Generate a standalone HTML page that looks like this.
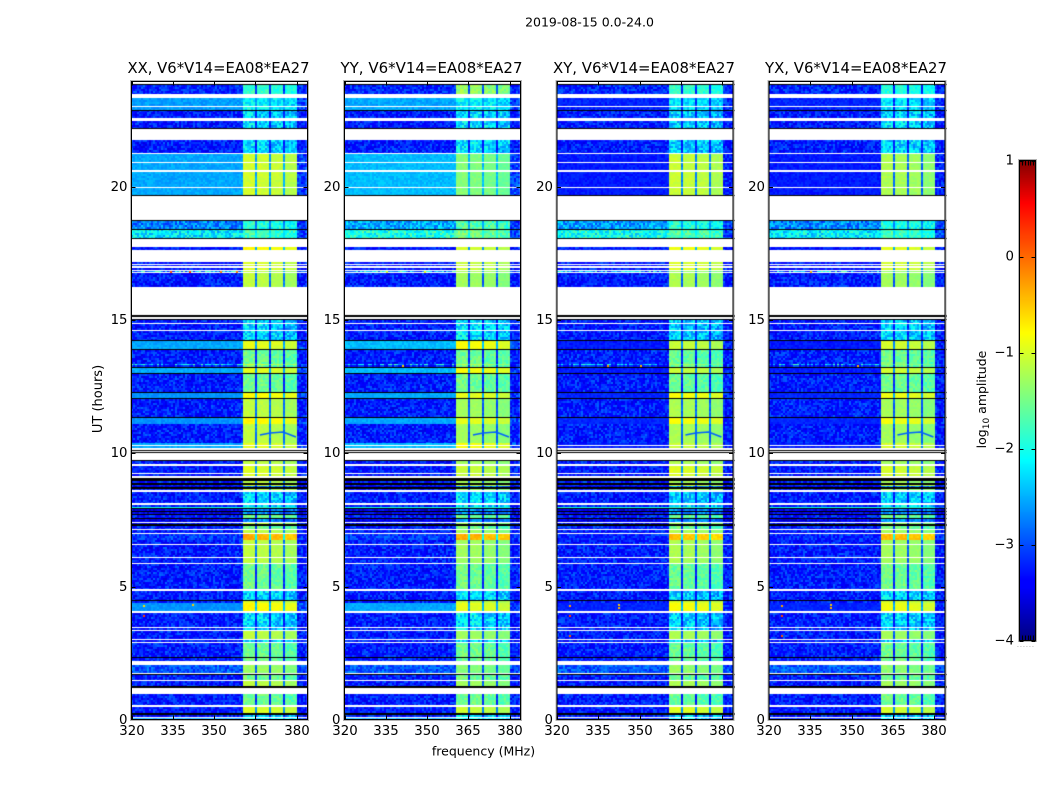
<!DOCTYPE html>
<html lang="en">
<head>
<meta charset="utf-8">
<title>2019-08-15 0.0-24.0</title>
<style>
html,body{margin:0;padding:0;background:#fff;}
#figure{position:relative;width:1050px;height:800px;overflow:hidden;background:#fff;}
#figure canvas{position:absolute;display:block;}
#overlay{position:absolute;left:0;top:0;}
text{font-family:"DejaVu Sans","Liberation Sans",sans-serif;fill:#000;}
</style>
</head>
<body>
<div id="figure">
<svg id="overlay" width="1050" height="800" xmlns="http://www.w3.org/2000/svg">
<text x="589.5" y="26.5" font-size="12.5" text-anchor="middle">2019-08-15 0.0-24.0</text>
<text x="483.5" y="755.5" font-size="12.5" text-anchor="middle">frequency (MHz)</text>
<text transform="translate(102,399) rotate(-90)" font-size="13" text-anchor="middle">UT (hours)</text>
<text transform="translate(986,399.5) rotate(-90)" font-size="12.5" text-anchor="middle">log<tspan font-size="9" dy="3">10</tspan><tspan dy="-3"> amplitude</tspan></text>
<text x="1017" y="647" font-size="6" letter-spacing="1.1" fill="#777" style="fill:#777">......</text>
</svg>
</div>
<script>
// Axis ticks
const xTicks = [320, 335, 350, 365, 380];
const yTicks = [0, 5, 10, 15, 20];
const cbTicks = [1, 0, -1, -2, -3, -4];

// Panels
const panelNames = ['XX', 'YY', 'XY', 'YX'];

// Time blocks: upper edge (UT hours) and the observing-state code of each block
const rowEnd = [
0.02,0.075,0.11,0.19,0.26,0.49,0.56,0.98,1.2,1.26,1.46,1.5,1.67,1.73,1.76,2.06,2.21,2.33,2.36,2.89,
2.93,2.99,3.04,3.35,3.38,3.45,3.49,4.03,4.09,4.38,4.40,4.46,4.5,4.84,4.91,5.85,5.89,6.08,6.11,6.56,
6.6,6.75,6.99,7.02,7.11,7.15,7.29,7.35,7.4,7.44,7.54,7.58,7.67,7.71,7.8,7.84,7.91,7.95,7.99,8.06,
8.13,8.55,8.61,8.68,8.72,8.79,8.83,8.87,8.96,9.0,9.07,9.14,9.21,9.27,9.53,9.6,9.71,9.75,10.03,10.05,
10.11,10.14,10.21,10.29,10.31,10.38,11.09,11.33,11.36,12.04,12.06,12.27,12.31,12.99,13.02,13.2,13.23,13.31,13.35,13.89,
13.93,14.21,14.25,14.59,14.63,14.86,14.9,15.0,15.04,15.11,15.17,16.25,16.76,16.8,16.84,16.88,16.95,17.01,17.07,17.11,
17.18,17.64,17.72,18.04,18.08,18.4,18.43,18.71,18.75,19.65,19.69,19.95,19.99,20.56,20.61,20.9,20.93,21.21,21.26,21.75,
22.17,22.21,22.46,22.58,22.86,22.89,22.99,23.03,23.34,23.49,23.81,23.85,24];
const rowKind = [
'W','t','W','q','K','h','W','r','W','K','s','W','r','K','W','m','W','r','K','r',
'W','q','W','s','W','q','W','q','W','v','W','h','K','q','W','r','W','s','W','s',
'W','s','o','W','s','W','r','K','s','W','d','K','r','K','d','K','d','K','e','q',
'W','q','W','s','K','d','h','K','s','K','K','W','h','W','h','W','s','K','W','K',
'W','K','W','u','W','u','s','v','K','s','K','v','K','r','K','u','K','r','z','r',
'K','u','K','q','W','q','W','q','K','W','K','W','s','W','z','W','h','W','h','W',
'h','W','y','W','K','p','K','n','K','W','K','a','W','a','W','a','W','a','W','q',
'W','K','q','W','q','K','t','W','t','W','g','K','W'];

// Observing-state codes and their levels in log10 amplitude, one pair of arrays per polarisation
const kindCodes = ['q','r','s','h','t','u','a','v','o','y','n','p','d','e','z','g','m'];
const xxBg   = [-3.25,-3.25,-3.25,-3.25,-2.6,-2.55,-2.55,-2.65,-3.1,-3.25,-2.75,-2.2,-3.5,-2.0,-2.5,-3.2,-2.95];
const xxBand = [-2.35,-1.6,-1.2,-1.05,-2.2,-1.0,-1.1,-0.85,-0.45,-0.85,-2.0,-1.85,-2.7,-1.9,-1.2,-1.9,-1.35];
const yyBg   = [-3.25,-3.25,-3.25,-3.25,-2.55,-2.45,-2.45,-2.55,-3.1,-3.25,-2.55,-2.0,-3.5,-2.0,-2.5,-3.2,-2.95];
const yyBand = [-2.3,-1.6,-1.35,-1.15,-2.2,-0.9,-1.5,-1.0,-0.45,-1.1,-1.75,-1.6,-2.7,-1.9,-1.3,-1.4,-1.5];
const xyBg   = [-3.25,-3.25,-3.25,-3.25,-3.2,-3.25,-3.25,-3.2,-3.2,-3.25,-2.6,-2.05,-3.5,-2.0,-2.6,-3.2,-2.95];
const xyBand = [-2.4,-1.65,-1.3,-1.05,-2.3,-1.15,-1.15,-0.9,-0.55,-0.95,-2.0,-1.75,-2.7,-1.9,-1.4,-1.9,-1.4];
const yxBg   = [-3.25,-3.25,-3.25,-3.25,-3.2,-3.25,-3.25,-3.2,-3.2,-3.25,-2.7,-2.2,-3.5,-2.0,-2.6,-3.2,-2.95];
const yxBand = [-2.35,-1.6,-1.35,-1.1,-2.3,-1.1,-1.3,-0.95,-0.5,-1.0,-2.0,-1.85,-2.7,-1.9,-1.4,-2.0,-1.45];
const kindBgGrain   = [0.36,0.36,0.36,0.32,0.14,0.12,0.12,0.1,0.3,0.3,0.42,0.45,0.3,0.1,0.95,0.36,0.32];
const kindBandGrain = [0.42,0.2,0.07,0.07,0.3,0.06,0.08,0.06,0.1,0.06,0.3,0.3,0.3,0.1,0.1,0.2,0.1];

// Spectral windows: upper edge (MHz), response type (0 off-band, 1 in-band, 2 band gap, 3 upper off-band), in-band offset
const channelEnd  = [360.7, 364.9, 365.7, 370.2, 370.9, 375.2, 376, 380.1, 384];
const channelType = [0, 1, 2, 1, 2, 1, 2, 1, 3];
const channelGain = [0, 0.08, 0, 0.05, 0, 0, 0, -0.08, 0];

// Dark ripple crossing the bands near 10.7 UT: MHz and UT hours
const rippleFreq = [366.7, 370.4, 375.1, 379.8];
const rippleHour = [10.69, 10.76, 10.8, 10.61];

// Isolated interference spikes: MHz, UT hours, log10 amplitude
const xxSpikeFreq = [341, 334, 352, 358, 324, 324, 342];
const xxSpikeHour = [16.82, 16.82, 16.82, 16.82, 4.3, 3.95, 4.35];
const xxSpikeVal  = [0.3, 0.1, -0.2, -0.1, -0.6, 0.2, -0.5];
const yySpikeFreq = [335, 349, 341];
const yySpikeHour = [16.82, 16.82, 13.32];
const yySpikeVal  = [-1.0, -0.9, -0.5];
const xySpikeFreq = [324.5, 324.5, 324.5, 342, 342, 338, 350];
const xySpikeHour = [4.33, 3.95, 3.2, 4.35, 4.25, 13.33, 13.33];
const xySpikeVal  = [-0.3, 0.2, 0.1, -0.5, -0.4, -0.2, -0.4];
const yxSpikeFreq = [324.5, 324.5, 324.5, 342, 342, 335, 352];
const yxSpikeHour = [4.33, 3.95, 3.2, 4.35, 4.25, 16.82, 13.33];
const yxSpikeVal  = [-0.3, 0.2, 0.1, -0.5, -0.4, -0.4, -0.4];

// Hand-typed pixel texture tiled across the cells: approximates the noise, not read cell by cell
const speckle = [-0.7,0.4,-0.2,0.9,-0.9,0.1,0.6,-0.4,0.3,-0.8,0.75,-0.1,-0.55,0.5,-0.3,1,-0.65,0.2,-0.95,0.35,
0.05,-0.45,0.8,-0.25,0.55,-0.75,0.15,-0.5,0.65,-0.15,0.45,-0.85,0.25,-0.35,0.7,-0.6,0,0.85,-0.2,0.3,-0.7];

// Jet colormap stops
const jetPos = [0, 0.11, 0.125, 0.375, 0.64, 0.91, 1];
const jetR   = [0, 0, 0, 0, 255, 255, 128];
const jetG   = [0, 0, 0, 255, 255, 0, 0];
const jetB   = [128, 255, 255, 255, 0, 0, 0];

const vMin = -4, vMax = 1;
const panelLefts = [131.5, 344.5, 557, 769];
const panelWidth = 176;
const frameTop = 81.5, frameBottom = 719.5;
const svgNS = 'http://www.w3.org/2000/svg';
const figure = document.getElementById('figure');
const overlay = document.getElementById('overlay');

function xAxis(mhz, left) { return left + (mhz - 320) * 2.75; }
function yAxis(hour) { return 720 - hour * (640 / 24); }
function interp(t, stops) {
  for (let i = 1; i < jetPos.length; i++) {
    if (t <= jetPos[i]) {
      const f = (t - jetPos[i - 1]) / (jetPos[i] - jetPos[i - 1]);
      return Math.round(stops[i - 1] + f * (stops[i] - stops[i - 1]));
    }
  }
  return stops[stops.length - 1];
}
function colorOf(v) {
  const t = Math.min(1, Math.max(0, (v - vMin) / (vMax - vMin)));
  return 'rgb(' + interp(t, jetR) + ',' + interp(t, jetG) + ',' + interp(t, jetB) + ')';
}
function grainAt(c, r, p) {
  let h = Math.imul(c + 1, 73856093) ^ Math.imul(r + 1, 19349663) ^ Math.imul(p + 1, 83492791);
  h = Math.imul(h ^ (h >>> 13), 1274126177);
  h = (h ^ (h >>> 16)) >>> 0;
  return speckle[h % speckle.length];
}
function svgEl(tag, attrs) {
  const el = document.createElementNS(svgNS, tag);
  for (const k in attrs) el.setAttribute(k, attrs[k]);
  return el;
}
function addLine(x1, y1, x2, y2, stroke, name) {
  const el = svgEl('line', {x1: x1, y1: y1, x2: x2, y2: y2, stroke: stroke, 'stroke-width': 1});
  
  
  overlay.appendChild(el);
}
function addText(x, y, anchor, size, str, name, fitWidth) {
  const el = svgEl('text', {x: x, y: y, 'text-anchor': anchor, 'font-size': size});
  if (fitWidth) {
    el.setAttribute('textLength', fitWidth);
    el.setAttribute('lengthAdjust', 'spacingAndGlyphs');
  }
  el.textContent = str;
  
  
  overlay.appendChild(el);
}
function addFrame(x, y, w, h, stroke, name) {
  const el = svgEl('rect', {x: x, y: y, width: w, height: h, fill: 'none', stroke: stroke, 'stroke-width': 1});
  
  
  overlay.appendChild(el);
}

function drawPanel(index, bg, band, spikeFreq, spikeHour, spikeVal) {
  const left = panelLefts[index];
  const id = panelNames[index].toLowerCase();
  const originX = Math.floor(left);
  const canvas = document.createElement('canvas');
  canvas.width = panelWidth + 2;
  canvas.height = 642;
  canvas.style.left = originX + 'px';
  canvas.style.top = '80px';
  
  
  figure.insertBefore(canvas, overlay);
  const ctx = canvas.getContext('2d');
  const nCols = 88;
  const colMHz = 64 / nCols;
  let prevHour = 0;
  for (let s = 0; s < rowEnd.length; s++) {
    const code = rowKind[s];
    const y0 = Math.round(yAxis(rowEnd[s]));
    const y1 = Math.max(y0 + 1, Math.round(yAxis(prevHour)));
    prevHour = rowEnd[s];
    if (code === 'W') continue;
    if (code === 'K') {
      ctx.fillStyle = '#000';
      ctx.fillRect(0, y0 - 80, canvas.width, y1 - y0);
      continue;
    }
    const k = kindCodes.indexOf(code);
    for (let y = y0; y < y1; y += 2) {
      const r = Math.floor(y / 2);
      for (let c = 0; c < nCols; c++) {
        const mhz = 320 + (c + 0.5) * colMHz;
        let seg = 0;
        while (seg < channelEnd.length - 1 && mhz > channelEnd[seg]) seg++;
        const n = grainAt(c, r, index);
        const type = channelType[seg];
        let v;
        if (type === 1) v = band[k] + channelGain[seg] + n * kindBandGrain[k];
        else if (type === 2) v = Math.max(bg[k], band[k] - 1.6) + n * 0.12;
        else if (type === 3) v = Math.min(bg[k], -3.05) + n * 0.35;
        else v = bg[k] + n * kindBgGrain[k];
        const x0 = Math.floor(xAxis(320 + c * colMHz, left) + 0.01) - originX;
        ctx.fillStyle = colorOf(v);
        ctx.fillRect(x0, y - 80, 2, Math.min(2, y1 - y));
      }
    }
  }
  ctx.strokeStyle = colorOf(-2.9);
  ctx.lineWidth = 1.6;
  ctx.beginPath();
  for (let i = 0; i < rippleFreq.length; i++) {
    const px = xAxis(rippleFreq[i], left) - originX;
    const py = yAxis(rippleHour[i]) - 80;
    if (i === 0) ctx.moveTo(px, py);
    else ctx.lineTo(px, py);
  }
  ctx.stroke();
  for (let i = 0; i < spikeFreq.length; i++) {
    ctx.fillStyle = colorOf(spikeVal[i]);
    ctx.fillRect(Math.round(xAxis(spikeFreq[i], left)) - originX, Math.round(yAxis(spikeHour[i])) - 80, 2, 2);
  }

  // frame: soft outer edge and dark inner edge
  addFrame(left - 1, frameTop - 1, panelWidth + 2, frameBottom - frameTop + 2, '#b4b4b4', 'panel-frame-shadow-' + id);
  addFrame(left, frameTop, panelWidth, frameBottom - frameTop, '#000', 'panel-frame-' + id);

  xTicks.forEach(function (t) {
    const x = Math.round(xAxis(t, left)) + 0.5;
    addLine(x, frameBottom, x, frameBottom - 4, '#000', 'x-tick-bottom-' + id + '-' + t);
    addLine(x, frameTop, x, frameTop + 4, '#000', 'x-tick-top-' + id + '-' + t);
    addText(x - 0.5, 735, 'middle', 13.3, String(t), 'x-tick-label-' + id + '-' + t);
  });
  yTicks.forEach(function (t) {
    const y = Math.round(yAxis(t)) + 0.5;
    if (t > 0) {
      addLine(left, y, left + 4, y, '#000', 'y-tick-left-' + id + '-' + t);
      addLine(left + panelWidth, y, left + panelWidth - 4, y, '#000', 'y-tick-right-' + id + '-' + t);
    }
    addText(left - 4, Math.round(yAxis(t)) + 4, 'end', 13.3, String(t), 'y-tick-label-' + id + '-' + t);
  });
  addText(left + 87, 73, 'middle', 15.5, panelNames[index] + ', V6*V14=EA08*EA27', 'panel-title-' + id, 182);
}

drawPanel(0, xxBg, xxBand, xxSpikeFreq, xxSpikeHour, xxSpikeVal);
drawPanel(1, yyBg, yyBand, yySpikeFreq, yySpikeHour, yySpikeVal);
drawPanel(2, xyBg, xyBand, xySpikeFreq, xySpikeHour, xySpikeVal);
drawPanel(3, yxBg, yxBand, yxSpikeFreq, yxSpikeHour, yxSpikeVal);

// Colorbar
(function () {
  const cbLeft = 1019.5, cbRight = 1035.5, cbTop = 160.5, cbBottom = 640.5;
  const cbY = function (v) { return cbBottom - (v - vMin) / (vMax - vMin) * (cbBottom - cbTop); };
  const canvas = document.createElement('canvas');
  canvas.width = 16;
  canvas.height = 480;
  canvas.style.left = '1020px';
  canvas.style.top = '160px';
  
  
  figure.insertBefore(canvas, overlay);
  const ctx = canvas.getContext('2d');
  for (let i = 0; i < 480; i++) {
    ctx.fillStyle = colorOf(vMax - (i + 0.5) / 480 * (vMax - vMin));
    ctx.fillRect(0, i, 16, 1);
  }
  addFrame(cbLeft - 1, cbTop - 1, cbRight - cbLeft + 2, cbBottom - cbTop + 2, '#b4b4b4', 'colorbar-frame-shadow');
  addFrame(cbLeft, cbTop, cbRight - cbLeft, cbBottom - cbTop, '#000', 'colorbar-frame');
  cbTicks.forEach(function (t) {
    const y = Math.round(cbY(t)) + 0.5;
    addLine(cbLeft, y, cbLeft + 4, y, '#000', 'colorbar-tick-left-' + t);
    addLine(cbRight, y, cbRight - 4, y, '#000', 'colorbar-tick-right-' + t);
    const label = t < 0 ? '\u2212' + Math.abs(t) : String(t);
    addText(1014, y + 3, 'end', 13.3, label, 'colorbar-tick-label-' + t);
  });
  for (let i = 1; i <= 5; i++) {
    const x = Math.round(cbLeft + i * (cbRight - cbLeft) / 6) + 0.5;
    addLine(x, cbTop, x, cbTop + 5, '#000', 'colorbar-top-tick-' + i);
    addLine(x, cbBottom, x, cbBottom - 5, '#000', 'colorbar-bottom-tick-' + i);
  }
})();
</script>
</body>
</html>
